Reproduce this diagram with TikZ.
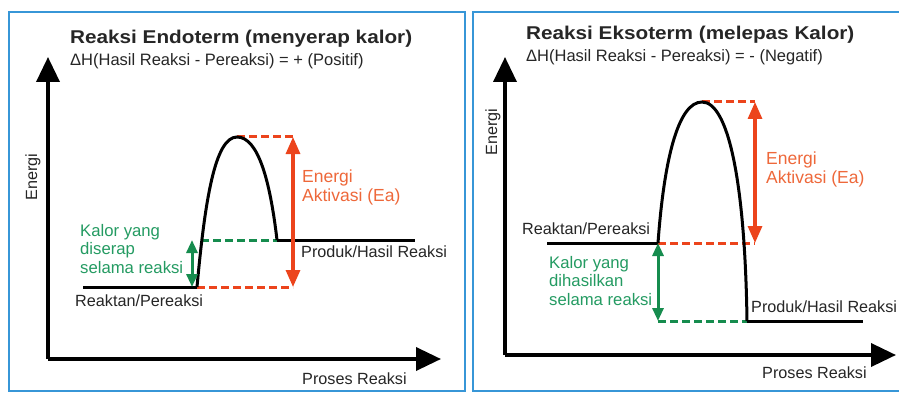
\documentclass[tikz,border=0pt]{standalone}
\usepackage{fontspec}
\setmainfont{Liberation Sans}
\newfontfamily\titlefont[FakeStretch=1.12]{Liberation Sans}
\usetikzlibrary{arrows.meta}
\definecolor{ink}{RGB}{38,38,38}
\definecolor{frameblue}{RGB}{55,150,215}
\definecolor{eared}{RGB}{236,68,28}
\definecolor{eatext}{RGB}{238,104,58}
\definecolor{kgreen}{RGB}{22,140,78}
\definecolor{ktext}{RGB}{36,155,98}
\begin{document}
\begin{tikzpicture}[x=1pt,y=-1pt,
  lbl/.style={inner sep=0pt,text=ink,font=\fontsize{16.2}{18}\selectfont},
  ttl/.style={inner sep=0pt,text=ink,font=\titlefont\bfseries\fontsize{18.5}{22}\selectfont},
  subttl/.style={inner sep=0pt,text=ink,font=\fontsize{16.5}{19}\selectfont},
  ealbl/.style={inner sep=0pt,text=eatext,align=left,font=\fontsize{17.5}{19}\selectfont},
  klbl/.style={inner sep=0pt,text=ktext,align=left,font=\fontsize{16.7}{18.5}\selectfont},
  panel/.style={draw=frameblue,line width=2.6pt},
  axis/.style={line width=3.6pt,black,-{Triangle[width=23pt,length=25pt]}},
  level/.style={line width=3pt,black},
  curve/.style={line width=3pt,black},
  redash/.style={line width=3pt,eared,dash pattern=on 8pt off 4pt},
  grdash/.style={line width=3pt,kgreen,dash pattern=on 8pt off 4pt},
  redarrow/.style={line width=3.2pt,eared,{Triangle[width=14pt,length=17pt]}-{Triangle[width=14pt,length=17pt]}},
  grarrow/.style={line width=3pt,kgreen,{Triangle[width=11pt,length=13pt]}-{Triangle[width=11pt,length=13pt]}}
]
\fill[white] (0,0) rectangle (899,393);
\useasboundingbox (0,0) rectangle (899,393);

% ---------- panels ----------
\draw[panel] (9,12) rectangle (465,391);
\draw[panel] (473,12) rectangle (910,391);

% ================= LEFT: Endoterm =================
\coordinate (L0) at (48,359);
\coordinate (Lytip) at (48,57);
\coordinate (Lxtip) at (441,359);
\draw[axis] (L0) -- (Lytip);
\draw[axis] (L0) -- (Lxtip);

\coordinate (LrA) at (83,287);
\coordinate (LrB) at (197,287);
\coordinate (Lpk) at (237,137);
\coordinate (LpA) at (277,240);
\coordinate (LpB) at (415,240);
\coordinate (LgA) at (201,240);
\coordinate (LeaT) at (293,137);
\coordinate (LeaB) at (293,287);
\coordinate (LgT) at (192,240);
\coordinate (LgB) at (192,287);

\draw[redash] (Lpk) -- (LeaT);
\draw[redash] (LrB) -- (LeaB);
\draw[grdash] (LgA) -- (LpA);
\draw[level] (LrA) -- (LrB);
\draw[level] (LpA) -- (LpB);
\draw[curve] (LrB) .. controls (205,200) and (215,137) .. (Lpk)
                  .. controls (258,137) and (270,180) .. (LpA);
\draw[redarrow] (LeaT) -- (LeaB);
\draw[grarrow] (LgT) -- (LgB);

\node[ttl,anchor=west] (Ltitle) at (70,39) {Reaksi Endoterm (menyerap kalor)};
\node[subttl,anchor=west] (Lsub) at (70,61) {ΔH(Hasil Reaksi - Pereaksi) = + (Positif)};
\node[lbl,rotate=90] (Lyl) at (33,177) {Energi};
\node[lbl,anchor=west] (Lxl) at (302,379) {Proses Reaksi};
\node[lbl,anchor=west] (Lreak) at (75,301) {Reaktan/Pereaksi};
\node[lbl,anchor=west] (Lprod) at (301,252) {Produk/Hasil Reaksi};
\node[ealbl,anchor=west] (Lea) at (302,187) {Energi\\Aktivasi (Ea)};
\node[klbl,anchor=west] (Lk) at (80,249) {Kalor yang\\diserap\\selama reaksi};

% ================= RIGHT: Eksoterm =================
\coordinate (R0) at (505,355);
\coordinate (Rytip) at (505,57);
\coordinate (Rxtip) at (896,355);
\draw[axis] (R0) -- (Rytip);
\draw[axis] (R0) -- (Rxtip);

\coordinate (RrA) at (547,243);
\coordinate (RrB) at (658,243);
\coordinate (Rpk) at (702,102);
\coordinate (RpA) at (747,321);
\coordinate (RpB) at (863,321);
\coordinate (ReaT) at (755,102);
\coordinate (ReaB) at (755,243);

\draw[redash] (Rpk) -- (ReaT);
\draw[redash] (RrB) -- (ReaB);
\draw[grdash] (RrB |- RpA) -- (RpA);
\draw[level] (RrA) -- (RrB);
\draw[level] (RpA) -- (RpB);
\draw[curve] (RrB) .. controls (664,160) and (678,102) .. (Rpk)
                  .. controls (728,102) and (745,180) .. (RpA);
\draw[redarrow] (ReaT) -- (ReaB);
\draw[grarrow] (RrB) -- (RrB |- RpA);

\node[ttl,anchor=west] (Rtitle) at (526,35) {Reaksi Eksoterm (melepas Kalor)};
\node[subttl,anchor=west] (Rsub) at (526,57) {ΔH(Hasil Reaksi - Pereaksi) = - (Negatif)};
\node[lbl,rotate=90] (Ryl) at (493,132) {Energi};
\node[lbl,anchor=west] (Rxl) at (762,373) {Proses Reaksi};
\node[lbl,anchor=west] (Rreak) at (522,229) {Reaktan/Pereaksi};
\node[lbl,anchor=west] (Rprod) at (751,307) {Produk/Hasil Reaksi};
\node[ealbl,anchor=west] (Rea) at (766,169) {Energi\\Aktivasi (Ea)};
\node[klbl,anchor=west] (Rk) at (549,281) {Kalor yang\\dihasilkan\\selama reaksi};
\end{tikzpicture}
\end{document}
